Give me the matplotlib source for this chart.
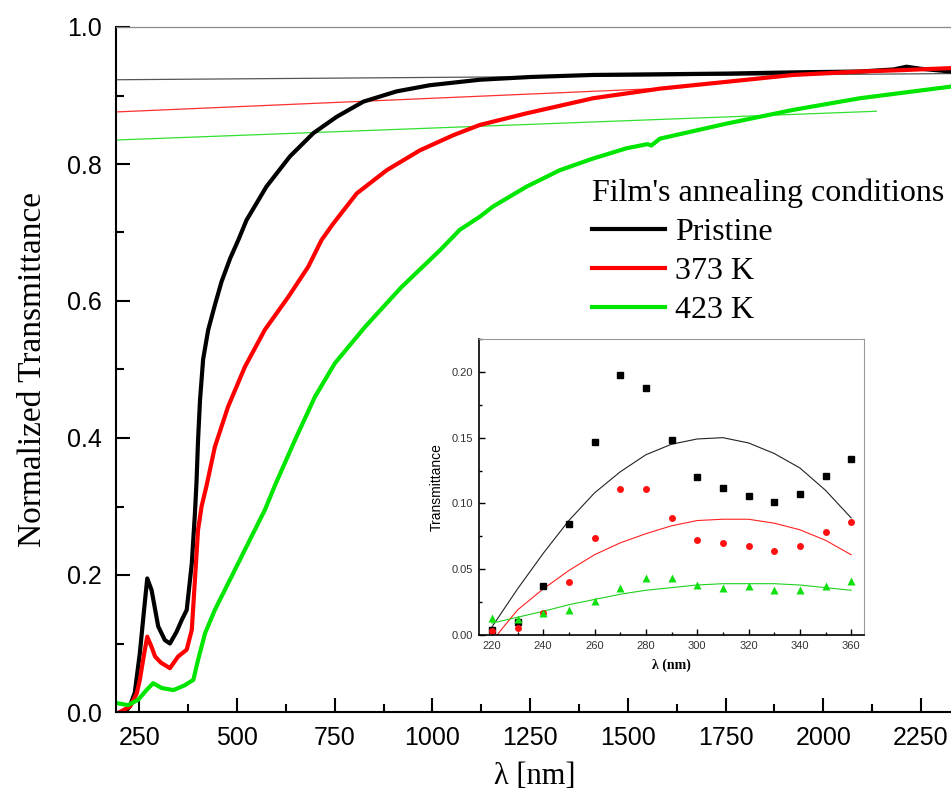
import matplotlib
matplotlib.use("Agg")
import matplotlib.pyplot as plt
from matplotlib.ticker import MultipleLocator

# ---- main spectra (wavelength in nm, normalized transmittance) ----
pristine_nm = [205, 213, 225, 238, 251, 262, 270, 281, 298, 315, 328, 345, 358, 371, 384,
               392, 396, 400, 405, 413, 426, 443, 460, 482, 503, 524, 575, 635, 695, 755,
               823, 908, 993, 1121, 1250, 1410, 1580, 1752, 1950, 2094, 2180, 2213, 2250, 2327]
pristine_t = [0.0, 0.0, 0.008, 0.028, 0.086, 0.150, 0.195, 0.178, 0.125, 0.105, 0.100, 0.117,
              0.134, 0.149, 0.217, 0.290, 0.335, 0.397, 0.455, 0.515, 0.558, 0.594, 0.628,
              0.662, 0.689, 0.718, 0.767, 0.811, 0.845, 0.869, 0.891, 0.906, 0.915, 0.923,
              0.927, 0.930, 0.931, 0.932, 0.934, 0.935, 0.938, 0.942, 0.939, 0.935]

k373_nm = [200, 226, 243, 251, 262, 270, 281, 290, 305, 328, 349, 371, 384, 392, 400, 409,
           422, 443, 477, 520, 571, 631, 682, 716, 746, 806, 883, 968, 1053, 1121, 1241,
           1411, 1582, 1753, 1923, 2094, 2200, 2327]
k373_t = [0.0, 0.008, 0.027, 0.047, 0.085, 0.110, 0.095, 0.081, 0.072, 0.064, 0.081, 0.091,
          0.120, 0.193, 0.266, 0.300, 0.331, 0.387, 0.446, 0.504, 0.558, 0.606, 0.650, 0.689,
          0.713, 0.757, 0.791, 0.820, 0.842, 0.857, 0.874, 0.896, 0.910, 0.920, 0.930,
          0.935, 0.937, 0.940]

k423_nm = [192, 221, 247, 268, 285, 307, 337, 366, 388, 400, 418, 443, 486, 528, 571, 597,
           648, 699, 750, 827, 920, 1019, 1070, 1121, 1155, 1241, 1326, 1411, 1497, 1550,
           1560, 1582, 1753, 1923, 2094, 2327]
k423_t = [0.013, 0.010, 0.018, 0.032, 0.042, 0.035, 0.032, 0.039, 0.047, 0.076, 0.115,
          0.149, 0.198, 0.246, 0.295, 0.331, 0.397, 0.460, 0.509, 0.562, 0.620, 0.674,
          0.704, 0.723, 0.738, 0.767, 0.791, 0.808, 0.823, 0.829, 0.827, 0.837, 0.859,
          0.879, 0.896, 0.913]

# thin extrapolation lines (start/end points)
guide_pristine_nm = [190, 2327]
guide_pristine_t = [0.923, 0.932]
guide_373_nm = [190, 1650]
guide_373_t = [0.876, 0.912]
guide_423_nm = [190, 2136]
guide_423_t = [0.835, 0.877]

labels = ["Pristine", "373 K", "423 K"]
colors = ["#000000", "#ff0000", "#00e600"]

# ---- inset: low-wavelength transmittance ----
inset_nm = [220, 230, 240, 250, 260, 270, 280, 290, 300, 310, 320, 330, 340, 350, 360]
inset_pristine = [0.004, 0.010, 0.037, 0.0845, 0.147, 0.198, 0.188, 0.148, 0.120, 0.112,
                  0.106, 0.101, 0.107, 0.121, 0.134]
inset_373 = [0.003, 0.005, 0.017, 0.040, 0.074, 0.111, 0.111, 0.0886, 0.072, 0.070, 0.068,
             0.064, 0.068, 0.078, 0.086]
inset_423 = [0.0127, 0.012, 0.0165, 0.019, 0.026, 0.036, 0.043, 0.043, 0.038, 0.036, 0.037,
             0.034, 0.034, 0.037, 0.041]

fit_nm = [220, 230, 240, 250, 260, 270, 280, 290, 300, 310, 320, 330, 340, 350, 360]
fit_pristine = [0.006, 0.035, 0.062, 0.087, 0.108, 0.124, 0.137, 0.145, 0.149, 0.150, 0.146,
                0.138, 0.127, 0.110, 0.089]
fit_373_nm = [222, 230, 240, 250, 260, 270, 280, 290, 300, 310, 320, 330, 340, 350, 360]
fit_373 = [0.0, 0.019, 0.035, 0.049, 0.061, 0.070, 0.077, 0.083, 0.087, 0.088, 0.088, 0.085,
           0.080, 0.072, 0.061]
fit_423 = [0.009, 0.0135, 0.018, 0.023, 0.027, 0.031, 0.034, 0.036, 0.038, 0.039, 0.039,
           0.039, 0.038, 0.036, 0.034]

SANS = "Liberation Sans"
SERIF = "Liberation Serif"

W, H = 951, 799
fig = plt.figure(figsize=(W / 100, H / 100), dpi=100)
ax = fig.add_axes([116 / W, (H - 712) / H, (W - 116) / W, (712 - 27) / H])

# guide lines first, thick spectra on top
ax.plot(guide_pristine_nm, guide_pristine_t, color="#555555", lw=0.9)
ax.plot(guide_373_nm, guide_373_t, color="#ff3030", lw=0.9)
ax.plot(guide_423_nm, guide_423_t, color="#30e030", lw=0.9)

for xs, ys, lab, c in zip([pristine_nm, k373_nm, k423_nm],
                          [pristine_t, k373_t, k423_t], labels, colors):
    ax.plot(xs, ys, color=c, lw=3.0, label=lab, solid_joinstyle="round")

ax.set_xlim(190, 2327)
ax.set_ylim(0, 1.0)
ax.xaxis.set_major_locator(MultipleLocator(250))
ax.xaxis.set_minor_locator(MultipleLocator(125))
ax.yaxis.set_major_locator(MultipleLocator(0.2))
ax.yaxis.set_minor_locator(MultipleLocator(0.1))
ax.yaxis.set_major_formatter(plt.FuncFormatter(lambda v, p: f"{v:.1f}"))
ax.tick_params(which="both", direction="in", width=1.5, top=False, right=False)
ax.tick_params(which="major", length=10, labelsize=18, pad=10)
ax.tick_params(which="minor", length=6)
for t in ax.get_xticklabels() + ax.get_yticklabels():
    t.set_family(SANS)

for s in ["left", "bottom"]:
    ax.spines[s].set_linewidth(1.5)
ax.spines["top"].set_color("#888888")
ax.spines["top"].set_linewidth(0.9)
ax.spines["right"].set_visible(False)

ax.set_xlabel("λ [nm]", family=SERIF, fontsize=22)
ax.set_ylabel("Normalized Transmittance", family=SERIF, fontsize=24)
ax.xaxis.set_label_coords((535 - 116) / (W - 116), (712 - 762) / 685)
ax.yaxis.set_label_coords((48 - 116) / (W - 116), 0.5)

leg = ax.legend(title="Film's annealing conditions", loc="upper left",
                bbox_to_anchor=(592 / W, (H - 179) / H), bbox_transform=fig.transFigure,
                frameon=False, borderpad=0, borderaxespad=0, handlelength=2.3,
                handletextpad=0.3, labelspacing=0.3, alignment="left",
                prop={"family": SERIF, "size": 23},
                title_fontproperties={"family": SERIF, "size": 23})

# ---- inset ----
ins = fig.add_axes([479 / W, (H - 635) / H, (864 - 479) / W, (635 - 339) / H])
ins.plot(fit_nm, fit_pristine, color="#222222", lw=0.8)
ins.plot(fit_373_nm, fit_373, color="#ff2020", lw=0.8)
ins.plot(fit_nm, fit_423, color="#20d020", lw=0.8)
ins.plot(inset_nm, inset_pristine, "s", color="#000000", ms=5)
ins.plot(inset_nm, inset_373, "o", color="#ff1010", ms=5, mec="none")
ins.plot(inset_nm, inset_423, "^", color="#10e010", ms=6, mec="none")

ins.set_xlim(215, 365)
ins.set_ylim(0, 0.225)
ins.xaxis.set_major_locator(MultipleLocator(20))
ins.xaxis.set_minor_locator(MultipleLocator(10))
ins.yaxis.set_major_locator(MultipleLocator(0.05))
ins.yaxis.set_minor_locator(MultipleLocator(0.025))
ins.yaxis.set_major_formatter(plt.FuncFormatter(lambda v, p: f"{v:.2f}"))
ins.tick_params(which="both", direction="in", top=False, right=False,
                labelsize=8, labelcolor="#333333", width=1.0)
ins.tick_params(which="major", length=4, pad=4)
ins.tick_params(which="minor", length=2)
for t in ins.get_xticklabels() + ins.get_yticklabels():
    t.set_family(SANS)
for s in ["left", "bottom"]:
    ins.spines[s].set_linewidth(1.2)
for s in ["top", "right"]:
    ins.spines[s].set_color("#999999")
    ins.spines[s].set_linewidth(0.8)
ins.set_xlabel("λ (nm)", family=SERIF, fontsize=10, fontweight="bold", labelpad=6)
ins.set_ylabel("Transmittance", family=SANS, fontsize=10, labelpad=6)

fig.savefig("out.png", dpi=100)
